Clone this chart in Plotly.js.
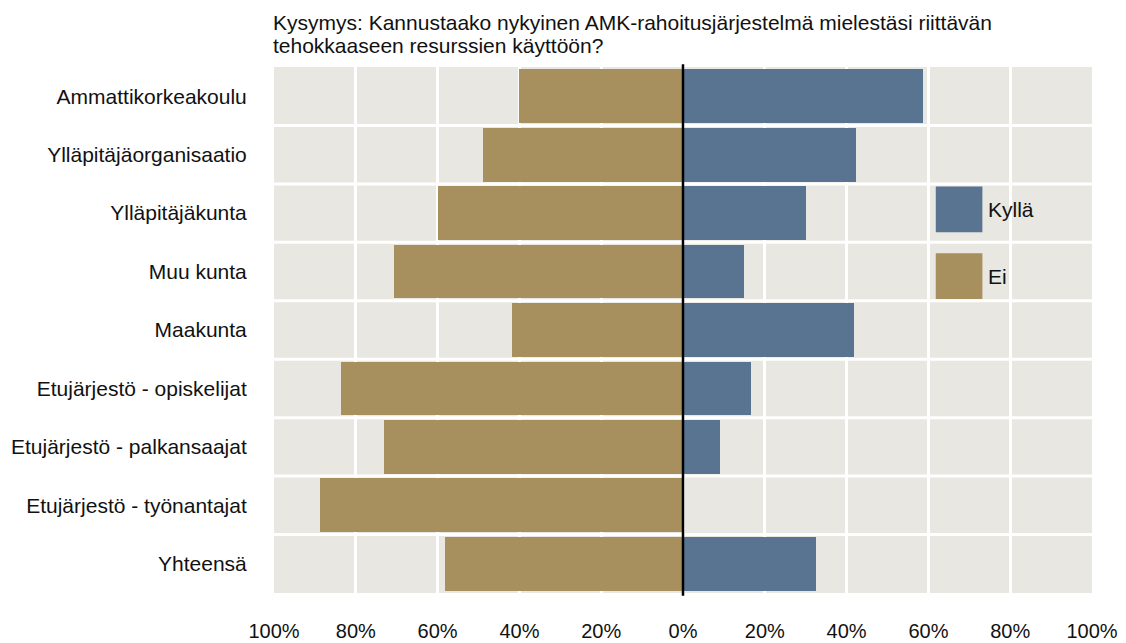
<!DOCTYPE html>
<html>
<head>
<meta charset="utf-8">
<script src="https://cdn.plot.ly/plotly-3.0.1.min.js"></script>
<style>
  body { margin: 0; background: #fff; }
  #chart { width: 1126px; height: 643px; }
</style>
</head>
<body>
<div id="chart"></div>
<script>
// Vastaajaryhmät (ylhäältä alas)
var groups = [
    "Ammattikorkeakoulu",
    "Ylläpitäjäorganisaatio",
    "Ylläpitäjäkunta",
    "Muu kunta",
    "Maakunta",
    "Etujärjestö - opiskelijat",
    "Etujärjestö - palkansaajat",
    "Etujärjestö - työnantajat",
    "Yhteensä"
];

// Osuudet prosentteina
var eiShare = [40, 49, 60, 70.7, 41.8, 83.6, 73.1, 88.8, 58.1];
var kyllaShare = [58.7, 42.3, 30.1, 14.9, 41.8, 16.6, 9.0, 0, 32.5];

// Akselin tikit
var tickValues = [-100, -80, -60, -40, -20, 0, 20, 40, 60, 80, 100];
var tickLabels = tickValues.map(v => Math.abs(v) + "%");

var titleLines = [
    "Kysymys: Kannustaako nykyinen AMK-rahoitusjärjestelmä mielestäsi riittävän",
    "tehokkaaseen resurssien käyttöön?"
];

var blue = "#587491";
var tan = "#a88f5e";
var font = "Liberation Sans, Arial, Helvetica, sans-serif";

var traceEi = {
    y: groups,
    x: eiShare.map(v => -v),
    name: "Ei",
    type: "bar",
    orientation: "h",
    width: 0.92,
    marker: { color: tan },
    hoverinfo: "skip"
};
var traceKylla = {
    y: groups,
    x: kyllaShare,
    name: "Kyllä",
    type: "bar",
    orientation: "h",
    width: 0.92,
    marker: { color: blue },
    hoverinfo: "skip"
};

// valkoiset raot rivien välissä
var shapes = [];
for (var i = 0; i < groups.length - 1; i++) {
    shapes.push({
        type: "line", layer: "below",
        xref: "paper", x0: 0, x1: 1,
        yref: "y", y0: i + 0.5, y1: i + 0.5,
        line: { color: "white", width: 3 }
    });
}
// nollaviiva
shapes.push({
    type: "line", layer: "above",
    xref: "x", x0: 0, x1: 0,
    yref: "paper", y0: -0.005, y1: 1.005,
    line: { color: "black", width: 2.5 }
});
// selite
shapes.push({
    type: "rect", layer: "above", xref: "paper", yref: "paper",
    x0: 0.809, x1: 0.866, y0: 0.686, y1: 0.773,
    line: { width: 0 }, fillcolor: blue
});
shapes.push({
    type: "rect", layer: "above", xref: "paper", yref: "paper",
    x0: 0.809, x1: 0.866, y0: 0.559, y1: 0.646,
    line: { width: 0 }, fillcolor: tan
});

var annotations = [
    { text: "Kyllä", xref: "paper", yref: "paper", x: 0.871, y: 0.729,
      xanchor: "left", yanchor: "middle", showarrow: false,
      font: { family: font, size: 21, color: "#111" } },
    { text: "Ei", xref: "paper", yref: "paper", x: 0.871, y: 0.602,
      xanchor: "left", yanchor: "middle", showarrow: false,
      font: { family: font, size: 21, color: "#111" } },
    // otsikko kahdella rivillä
    { text: titleLines[0], xref: "paper", yref: "paper", x: -0.004, y: 1.085,
      xanchor: "left", yanchor: "middle", showarrow: false,
      font: { family: font, size: 21, color: "#111" } },
    { text: titleLines[1], xref: "paper", yref: "paper", x: -0.004, y: 1.040,
      xanchor: "left", yanchor: "middle", showarrow: false,
      font: { family: font, size: 21, color: "#111" } }
];

var layout = {
    width: 1126,
    height: 643,
    margin: { l: 274, r: 34, t: 67, b: 50 },
    paper_bgcolor: "white",
    plot_bgcolor: "#e8e7e1",
    barmode: "relative",
    bargap: 0,
    showlegend: false,
    font: { family: font, size: 20, color: "#111" },
    xaxis: {
        range: [-100, 100],
        tickmode: "array",
        tickvals: tickValues,
        ticktext: tickLabels,
        tickfont: { size: 20 },
        showgrid: true,
        gridcolor: "white",
        gridwidth: 3,
        zeroline: false,
        showline: false,
        ticks: "outside",
        ticklen: 20,
        tickcolor: "rgba(0,0,0,0)",
        fixedrange: true,
        automargin: false
    },
    yaxis: {
        type: "category",
        autorange: "reversed",
        tickfont: { size: 21 },
        showgrid: false,
        zeroline: false,
        showline: false,
        ticks: "outside",
        ticklen: 22,
        tickcolor: "rgba(0,0,0,0)",
        fixedrange: true,
        automargin: false
    },
    shapes: shapes,
    annotations: annotations
};

Plotly.newPlot("chart", [traceEi, traceKylla], layout, { displayModeBar: false, staticPlot: true });
</script>
</body>
</html>
